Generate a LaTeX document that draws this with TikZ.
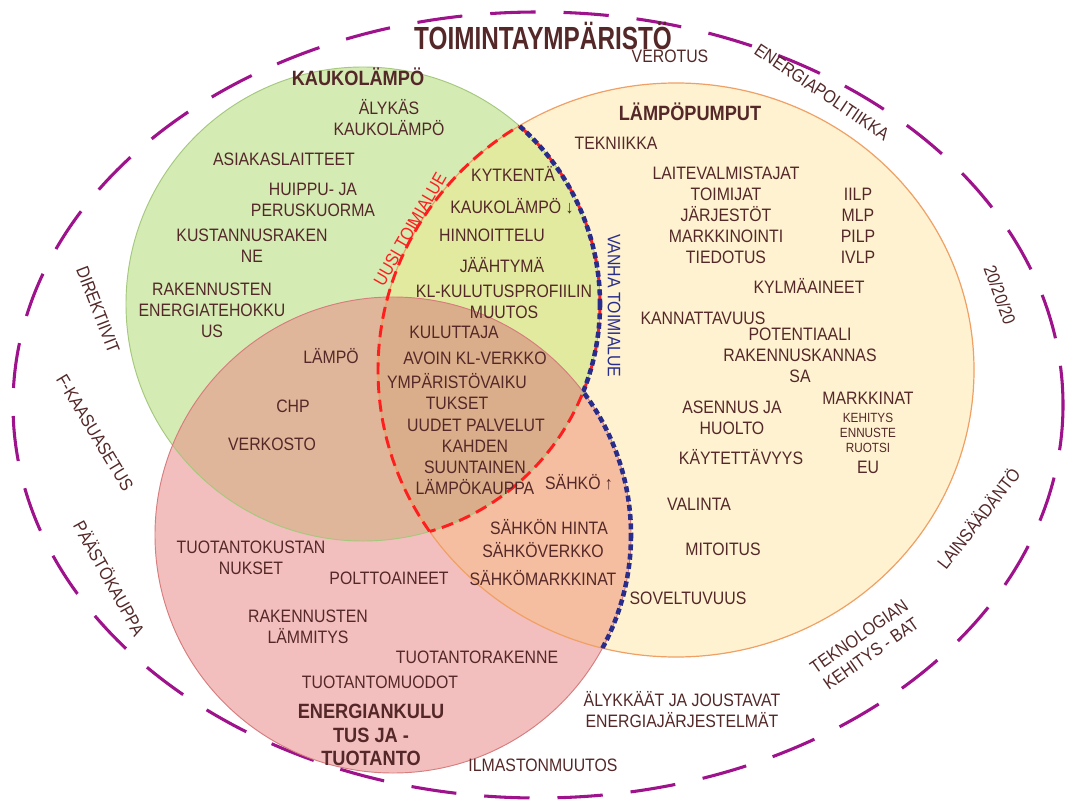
\documentclass[tikz,border=0pt]{standalone}
\usepackage{fontspec}
\setmainfont{Liberation Sans}[FakeStretch=0.88]
\newfontfamily\titlefont{Liberation Sans}[FakeStretch=0.76]
\definecolor{txt}{RGB}{84,40,40}
\definecolor{gfill}{RGB}{212,235,180}
\definecolor{ofill}{RGB}{254,242,208}
\definecolor{rfill}{RGB}{243,190,190}
\definecolor{gofill}{RGB}{226,234,160}
\definecolor{grfill}{RGB}{224,182,154}
\definecolor{rofill}{RGB}{245,190,160}
\definecolor{grofill}{RGB}{218,174,138}
\definecolor{gline}{RGB}{165,200,125}
\definecolor{oline}{RGB}{240,160,100}
\definecolor{rline}{RGB}{215,125,125}
\definecolor{outerc}{RGB}{158,18,140}
\definecolor{newred}{RGB}{255,30,30}
\definecolor{oldblue}{RGB}{40,45,140}
\tikzset{
  gcirc/.style={insert path={(363,304) circle [radius=237]}},
  ocirc/.style={insert path={(676,370) ellipse [x radius=298, y radius=287]}},
  rcirc/.style={insert path={(393,535) circle [radius=238]}},
  lbl/.style={text=txt, font=\fontsize{13.5}{15.8}\selectfont, align=center, inner sep=0pt},
  hdr/.style={lbl, font=\bfseries\fontsize{15.5}{17.6}\selectfont},
  sml/.style={lbl, font=\fontsize{10}{11.3}\selectfont},
  newdash/.style={draw=newred, line width=2.2pt, dash pattern=on 9pt off 5pt},
  olddash/.style={draw=oldblue, line width=3.4pt, dash pattern=on 4.5pt off 2.5pt},
}
\begin{document}
\begin{tikzpicture}[x=0.75pt, y=-0.75pt]
\useasboundingbox (0,0) rectangle (1067,802);
\fill[white] (0,0) rectangle (1067,802);
% outer environment
\draw[outerc, line width=2.3pt, dash pattern=on 34pt off 21pt] (538,405) ellipse [x radius=525, y radius=393];
% fills
\fill[gfill, gcirc];
\fill[ofill, ocirc];
\fill[rfill, rcirc];
\begin{scope}
  \clip[gcirc];
  \fill[gofill, ocirc];
  \fill[grfill, rcirc];
\end{scope}
\begin{scope}
  \clip[ocirc];
  \fill[rofill, rcirc];
  \clip[gcirc];
  \fill[grofill, rcirc];
\end{scope}
% borders
\draw[gline, line width=0.7pt, gcirc];
\draw[oline, line width=0.9pt, ocirc];
\draw[rline, line width=0.7pt, rcirc];
% new business area (red)
\begin{scope}
  \clip[gcirc];
  \draw[newdash, ocirc];
\end{scope}
\begin{scope}
  \clip[ocirc];
  \draw[newdash, gcirc];
\end{scope}
% old business area (blue)
\begin{scope}
  \clip[ocirc];
  \begin{scope}[even odd rule]
    \clip (0,0) rectangle (1067,802) (393,535) circle [radius=238];
    \draw[olddash, gcirc];
  \end{scope}
\end{scope}
\begin{scope}
  \clip[ocirc];
  \begin{scope}[even odd rule]
    \clip (0,0) rectangle (1067,802) (363,304) circle [radius=237];
    \draw[olddash, rcirc];
  \end{scope}
\end{scope}
% outer labels
\node[lbl, font=\titlefont\bfseries\fontsize{24}{26}\selectfont] (title) at (543,36) {TOIMINTAYMPÄRISTÖ};
\node[lbl] (verotus) at (670,56) {VEROTUS};
\node[lbl, rotate=-34] (energiapol) at (822,92) {ENERGIAPOLITIIKKA};
\node[lbl, rotate=-70] (twenty) at (1000,295) {20/20/20};
\node[lbl, rotate=52] (lains) at (978,518) {LAINSÄÄDÄNTÖ};
\node[lbl, rotate=35] (teknol) at (865,645) {TEKNOLOGIAN\\KEHITYS - BAT};
\node[lbl] (alykkaat) at (682,710) {ÄLYKKÄÄT JA JOUSTAVAT\\ENERGIAJÄRJESTELMÄT};
\node[lbl] (ilmasto) at (543,765) {ILMASTONMUUTOS};
\node[lbl, rotate=-61] (paasto) at (110,578) {PÄÄSTÖKAUPPA};
\node[lbl, rotate=-59] (fkaasu) at (95,433) {F-KAASUASETUS};
\node[lbl, rotate=-69] (direkt) at (98,310) {DIREKTIIVIT};
% business area labels
\node[lbl, text=newred, rotate=60] (uusi) at (410,229) {UUSI TOIMIALUE};
\node[lbl, text=oldblue, rotate=-90] (vanha) at (614,306) {VANHA TOIMIALUE};
% district heating
\node[hdr] (kl) at (358,77) {KAUKOLÄMPÖ};
\node[lbl] (alykas) at (389,118) {ÄLYKÄS\\KAUKOLÄMPÖ};
\node[lbl] (asiakas) at (284,159) {ASIAKASLAITTEET};
\node[lbl] (huippu) at (313,200) {HUIPPU- JA\\PERUSKUORMA};
\node[lbl] (kustannus) at (252,246) {KUSTANNUSRAKEN\\NE};
\node[lbl] (rakennusten) at (212,310) {RAKENNUSTEN\\ENERGIATEHOKKU\\US};
% lens
\node[lbl] (kytkenta) at (513,174) {KYTKENTÄ};
\node[lbl] (klalas) at (512,206) {KAUKOLÄMPÖ ↓};
\node[lbl] (hinnoittelu) at (492,235) {HINNOITTELU};
\node[lbl] (jaahtyma) at (502,265) {JÄÄHTYMÄ};
\node[lbl] (profiili) at (504,302) {KL-KULUTUSPROFIILIN\\MUUTOS};
\node[lbl] (kuluttaja) at (454,332) {KULUTTAJA};
\node[lbl] (avoin) at (475,358) {AVOIN KL-VERKKO};
\node[lbl] (ymparisto) at (457,392) {YMPÄRISTÖVAIKU\\TUKSET};
\node[lbl] (uudet) at (476,425) {UUDET PALVELUT};
\node[lbl] (kahden) at (475,467) {KAHDEN\\SUUNTAINEN\\LÄMPÖKAUPPA};
\node[lbl] (sahko) at (579,482) {SÄHKÖ ↑};
% CHP overlap
\node[lbl] (lampo) at (331,356) {LÄMPÖ};
\node[lbl] (chp) at (293,406) {CHP};
\node[lbl] (verkosto) at (272,444) {VERKOSTO};
% heat pumps
\node[hdr] (lp) at (690,112) {LÄMPÖPUMPUT};
\node[lbl] (tekniikka) at (616,143) {TEKNIIKKA};
\node[lbl] (laite) at (726,215) {LAITEVALMISTAJAT\\TOIMIJAT\\JÄRJESTÖT\\MARKKINOINTI\\TIEDOTUS};
\node[lbl] (tyypit) at (858,226) {IILP\\MLP\\PILP\\IVLP};
\node[lbl] (kylma) at (809,286) {KYLMÄAINEET};
\node[lbl] (kannatt) at (703,318) {KANNATTAVUUS};
\node[lbl] (potent) at (800,355) {POTENTIAALI\\RAKENNUSKANNAS\\SA};
\node[lbl] (markkinat) at (868,398) {MARKKINAT};
\node[sml] (kehitys) at (868,433) {KEHITYS\\ENNUSTE\\RUOTSI};
\node[lbl] (eu) at (868,467) {EU};
\node[lbl] (asennus) at (732,418) {ASENNUS JA\\HUOLTO};
\node[lbl] (kaytett) at (741,457) {KÄYTETTÄVYYS};
\node[lbl] (valinta) at (699,504) {VALINTA};
\node[lbl] (mitoitus) at (723,549) {MITOITUS};
\node[lbl] (soveltuvuus) at (688,598) {SOVELTUVUUS};
% electricity overlap
\node[lbl] (hinta) at (549,527) {SÄHKÖN HINTA};
\node[lbl] (sverkko) at (543,550) {SÄHKÖVERKKO};
\node[lbl] (smarkkinat) at (543,578) {SÄHKÖMARKKINAT};
% energy consumption & production
\node[lbl] (tkust) at (251,558) {TUOTANTOKUSTAN\\NUKSET};
\node[lbl] (poltto) at (389,578) {POLTTOAINEET};
\node[lbl] (lammitys) at (308,627) {RAKENNUSTEN\\LÄMMITYS};
\node[lbl] (trak) at (477,657) {TUOTANTORAKENNE};
\node[lbl] (tmuodot) at (380,682) {TUOTANTOMUODOT};
\node[hdr] (ek) at (371,735) {ENERGIANKULU\\TUS JA -\\TUOTANTO};
\end{tikzpicture}
\end{document}
